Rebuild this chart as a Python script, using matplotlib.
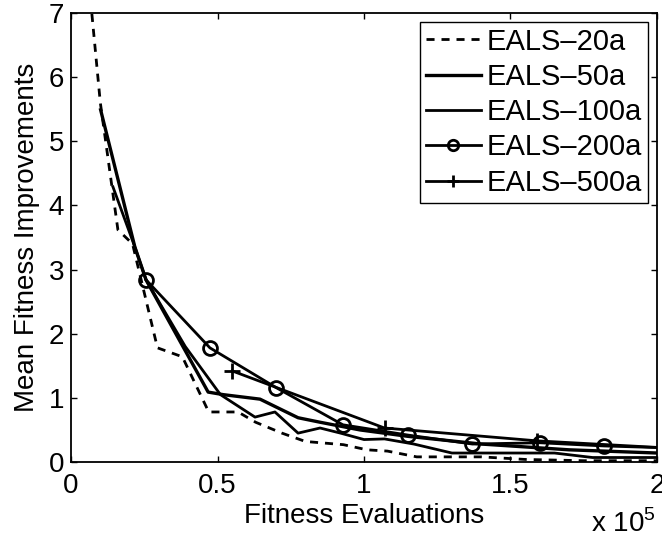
import matplotlib
matplotlib.use("Agg")
import matplotlib.pyplot as plt
from matplotlib.ticker import FuncFormatter

plt.rcParams['font.family'] = ['Liberation Sans', 'DejaVu Sans']
plt.rcParams['font.size'] = 20
plt.rcParams['mathtext.fontset'] = 'custom'
plt.rcParams['mathtext.rm'] = 'Liberation Sans'

# datos (evaluaciones, mejoras medias)
x20 = [5000, 10000, 16000, 21000, 29500, 38000, 47000, 57000, 63000, 72000,
       80000, 93000, 101000, 108000, 118000, 140000, 155000, 175000, 200000]
y20 = [8.0, 5.6, 3.62, 3.4, 1.78, 1.64, 0.78, 0.78, 0.62, 0.45,
       0.32, 0.27, 0.19, 0.17, 0.08, 0.08, 0.04, 0.02, 0.02]

x50 = [10100, 21800, 25600, 46800, 52000, 64500, 77500, 85000, 98600,
       115000, 140000, 170000, 200000]
y50 = [5.49, 3.35, 2.84, 1.09, 1.05, 0.98, 0.69, 0.62, 0.50,
       0.40, 0.28, 0.19, 0.14]

x100 = [14300, 21800, 25600, 39000, 51000, 62800, 69600, 77500, 85000,
        92000, 100000, 107000, 117000, 130000, 165000, 178000, 200000]
y100 = [4.29, 3.35, 2.84, 1.80, 1.05, 0.70, 0.78, 0.45, 0.53,
        0.45, 0.35, 0.36, 0.28, 0.14, 0.14, 0.07, 0.07]

x200 = [25600, 47400, 70000, 92800, 115000, 137000, 160000, 182000, 204000]
y200 = [2.84, 1.78, 1.16, 0.58, 0.42, 0.28, 0.30, 0.25, 0.22]

x500 = [55000, 107000, 159000, 211000]
y500 = [1.42, 0.53, 0.33, 0.20]

fig = plt.figure(figsize=(6.62, 5.42), dpi=100)
ax = fig.add_axes([0.1073, 0.1476, 0.8851, 0.8284])

ax.plot(x20, y20, color='k', lw=2, ls=(0, (2.9, 2.5)), label='EALS\u201320a')
ax.plot(x50, y50, color='k', lw=2.4, label='EALS\u201350a')
ax.plot(x100, y100, color='k', lw=2, label='EALS\u2013100a')
ax.plot(x200, y200, color='k', lw=2, marker='o', ms=10, mew=2,
        mfc='none', label='EALS\u2013200a')
ax.plot(x500, y500, color='k', lw=2, marker='+', ms=12, mew=2,
        label='EALS\u2013500a')

ax.set_xlim(0, 200000)
ax.set_ylim(0, 7)
ax.set_xticks([0, 50000, 100000, 150000, 200000])
ax.set_yticks(range(8))
ax.xaxis.set_major_formatter(FuncFormatter(lambda v, p: '%g' % (v / 1e5)))

ax.tick_params(direction='in', length=4.5, width=1, top=True, right=True,
               labelsize=20)
ax.tick_params(axis='x', pad=8)
ax.tick_params(axis='y', pad=5)
for s in ax.spines.values():
    s.set_linewidth(1.3)

ax.set_xlabel("Fitness Evaluations", labelpad=3)
ax.set_ylabel("Mean Fitness Improvements", labelpad=6)

fig.text(0.99, 0.008, 'x 10$^5$', ha='right', va='bottom', fontsize=20)

leg = ax.legend(loc='upper right', borderaxespad=0.3, fancybox=False,
                framealpha=1, edgecolor='k', handlelength=1.9,
                handletextpad=0.2, labelspacing=0.25, borderpad=0.2,
                markerscale=0.75, fontsize=21)
leg.get_frame().set_linewidth(1)

fig.savefig("out.png", dpi=100)
